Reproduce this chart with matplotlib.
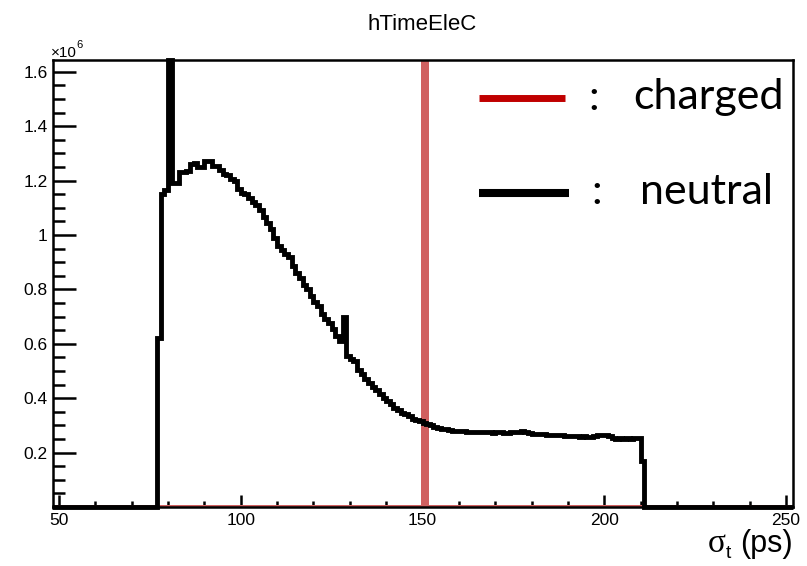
import numpy as np
import matplotlib
matplotlib.use("Agg")
import matplotlib.pyplot as plt
from matplotlib.lines import Line2D

# ---------------- data ----------------
title = "hTimeEleC"
x_range = (48.35, 251.9)
y_max = 1.643  # x 10^6
bin_width = 1.0
hist_lo, hist_hi = 48, 252

# neutral histogram (counts in units of 1e6), bins of 1 ps starting at 77 ps
neutral_first_bin = 77
neutral_counts = [
    0.62, 1.15, 1.165, 1.643, 1.19, 1.19, 1.23, 1.23, 1.235, 1.26,     # 77-86
    1.265, 1.25, 1.25, 1.27, 1.27, 1.255, 1.255, 1.24, 1.225, 1.22,    # 87-96
    1.205, 1.20, 1.17, 1.155, 1.15, 1.135, 1.12, 1.11, 1.09, 1.065,    # 97-106
    1.045, 1.02, 0.99, 0.96, 0.945, 0.93, 0.92, 0.885, 0.86, 0.84,     # 107-116
    0.815, 0.80, 0.775, 0.755, 0.74, 0.71, 0.69, 0.675, 0.655, 0.63,   # 117-126
    0.61, 0.70, 0.555, 0.545, 0.535, 0.505, 0.49, 0.47, 0.455, 0.44,   # 127-136
    0.43, 0.415, 0.40, 0.39, 0.38, 0.365, 0.355, 0.345, 0.34, 0.335,   # 137-146
    0.325, 0.32, 0.315, 0.31, 0.305, 0.30, 0.295, 0.29, 0.287,         # 147-155
    0.285, 0.283, 0.281, 0.280, 0.279, 0.278, 0.277, 0.276, 0.275, 0.276,  # 156-165
    0.274, 0.275, 0.274, 0.273, 0.275, 0.274, 0.273, 0.272, 0.274, 0.275,  # 166-175
    0.276, 0.278, 0.274, 0.271, 0.268, 0.269, 0.267, 0.268, 0.266, 0.265,  # 176-185
    0.266, 0.264, 0.263, 0.262, 0.261, 0.260, 0.260, 0.259, 0.260, 0.258,  # 186-195
    0.259, 0.261, 0.264, 0.266, 0.265, 0.261, 0.255, 0.251, 0.252, 0.250,  # 196-205
    0.253, 0.251, 0.252, 0.253,                                            # 206-209
    0.17,                                                                  # 210
]

# charged histogram: single bin far above the frame
charged_bin = 150
charged_count = 6.0

x_major = [50, 100, 150, 200, 250]
x_major_labels = ["50", "100", "150", "200", "250"]
y_major = [0.2, 0.4, 0.6, 0.8, 1.0, 1.2, 1.4, 1.6]
y_major_labels = ["0.2", "0.4", "0.6", "0.8", "1", "1.2", "1.4", "1.6"]
legend_labels = ["charged", "neutral"]

# ---------------- figure ----------------
W, H = 807, 566
fig = plt.figure(figsize=(W / 100, H / 100), dpi=100)
L, R, T, B = 53, 793, 60, 507
ax = fig.add_axes([L / W, 1 - B / H, (R - L) / W, (B - T) / H])

edges = np.arange(hist_lo, hist_hi + bin_width, bin_width)
n_counts = np.zeros(len(edges) - 1)
i0 = int(neutral_first_bin - hist_lo)
n_counts[i0:i0 + len(neutral_counts)] = neutral_counts
c_counts = np.zeros(len(edges) - 1)
c_counts[int(charged_bin - hist_lo)] = charged_count

ax.stairs(c_counts, edges, color="#d06060", linewidth=3.6, zorder=2)
ax.stairs(n_counts, edges, color="black", linewidth=3.5, zorder=3, clip_on=False)

ax.set_xlim(*x_range)
ax.set_ylim(0, y_max)

ax.set_xticks(x_major)
ax.set_xticklabels(x_major_labels)
ax.set_xticks(np.arange(50, 251, 10), minor=True)
ax.set_yticks(y_major)
ax.set_yticklabels(y_major_labels)
ax.set_yticks(np.arange(0.05, 1.61, 0.05), minor=True)

ax.tick_params(axis="x", which="major", direction="in", length=8.6, width=1.8, pad=4,
               top=False, labelsize=12.5)
ax.tick_params(axis="x", which="minor", direction="in", length=4.3, width=1.8, top=False)
ax.tick_params(axis="y", which="major", direction="in", length=16.5, width=1.8, pad=4,
               right=False, labelsize=12.5)
ax.tick_params(axis="y", which="minor", direction="in", length=8.6, width=1.8, right=False)
for lab in ax.get_xticklabels() + ax.get_yticklabels():
    lab.set_family("Liberation Sans")
for s in ax.spines.values():
    s.set_linewidth(1.8)
    s.set_zorder(4)

def fx(px):
    return px / W

def fy(py):
    return 1 - py / H

fig.text(fx(422), fy(30), title, ha="center", va="baseline", fontsize=16,
         family="Liberation Sans")
fig.text(fx(51), fy(57), "\u00d710", ha="left", va="baseline", fontsize=11,
         family="Liberation Sans")
fig.text(fx(76), fy(48), "6", ha="left", va="baseline", fontsize=8,
         family="Liberation Sans")

# x-axis title: sigma_t (ps)
fig.text(fx(793), fy(552), "(ps)", ha="right", va="baseline", fontsize=22,
         family="Liberation Sans")
fig.text(fx(708), fy(552), "\u03c3", ha="left", va="baseline", fontsize=24,
         family="Liberation Serif")
fig.text(fx(726), fy(558), "t", ha="left", va="baseline", fontsize=14,
         family="Liberation Sans")

# legend overlay
fig.add_artist(Line2D([fx(479), fx(565)], [fy(97.7), fy(97.7)], color="#c00000",
                      linewidth=5.0, solid_capstyle="butt"))
fig.add_artist(Line2D([fx(479), fx(569)], [fy(192.7), fy(192.7)], color="black",
                      linewidth=5.8, solid_capstyle="butt"))
fig.text(fx(594), fy(109.5), ":", ha="center", va="baseline", fontsize=31, family="Lato")
fig.text(fx(597), fy(203.5), ":", ha="center", va="baseline", fontsize=31, family="Lato")
fig.text(fx(633), fy(109.5), legend_labels[0], ha="left", va="baseline", fontsize=31,
         family="Lato")
fig.text(fx(640), fy(203.5), legend_labels[1], ha="left", va="baseline", fontsize=31,
         family="Lato")

fig.savefig("out.png", dpi=100)
